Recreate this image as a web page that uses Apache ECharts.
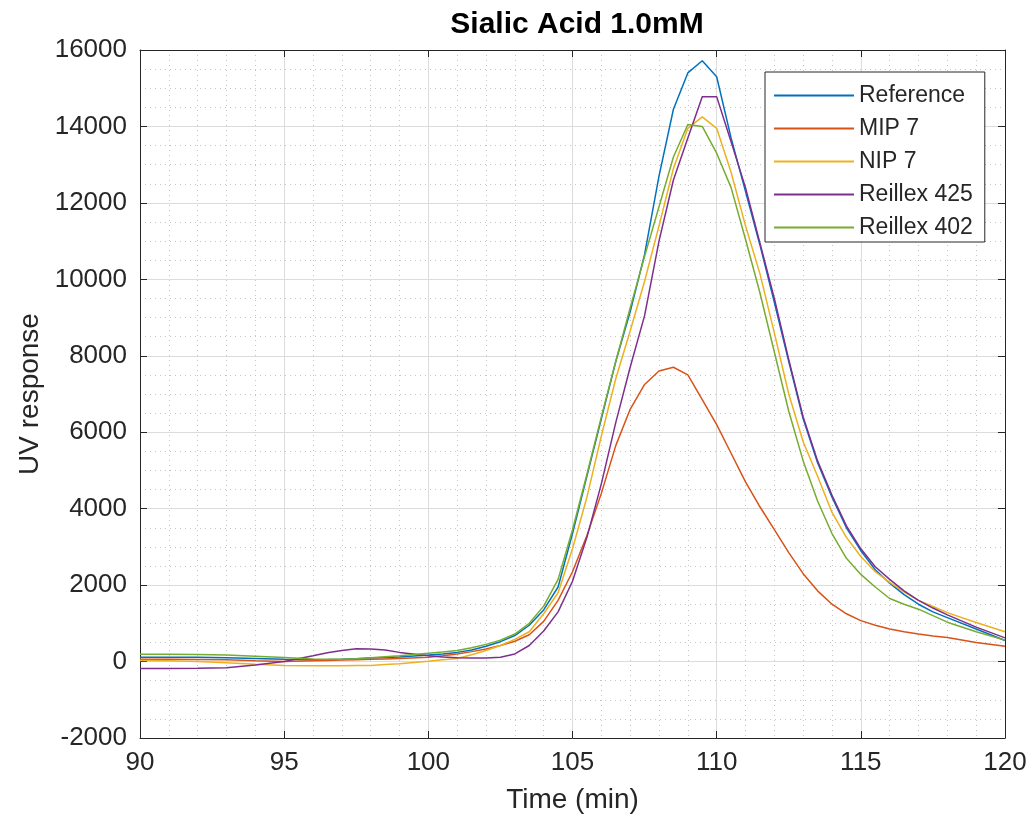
<!DOCTYPE html>
<html>
<head>
<meta charset="utf-8">
<script src="https://cdn.jsdelivr.net/npm/echarts@6/dist/echarts.min.js"></script>
<style>
html,body{margin:0;padding:0;background:#fff;}
#chart{width:1035px;height:823px;}
</style>
</head>
<body>
<div id="chart"></div>
<script>
var titleText = 'Sialic Acid 1.0mM';
var xName = 'Time (min)';
var yName = 'UV response';
var seriesNames = ['Reference', 'MIP 7', 'NIP 7', 'Reillex 425', 'Reillex 402'];
var seriesColors = ['#0072BD', '#D95319', '#EDB120', '#7E2F8E', '#77AC30'];

var times = [90,91,92,93,94,95,96,96.5,97,97.5,98,98.5,99,100,100.5,101,101.5,102,102.5,103,103.5,104,104.5,105,105.5,106,106.5,107,107.5,108,108.5,109,109.5,110,110.5,111,111.5,112,112.5,113,113.5,114,114.5,115,115.5,116,116.5,117,117.5,118,119,120];

var reference = [110,110,110,100,80,60,50,52,60,72,90,105,120,170,200,240,300,400,520,680,950,1350,1950,3350,4850,6350,7850,9150,10650,12700,14450,15400,15720,15300,13700,12300,10900,9400,7850,6350,5200,4300,3500,2900,2400,2050,1750,1500,1300,1150,850,550];
var mip7 = [60,60,55,45,20,0,20,30,40,50,60,70,80,110,150,200,260,330,420,530,700,1050,1600,2350,3300,4400,5650,6600,7250,7600,7700,7500,6850,6200,5450,4700,4050,3450,2850,2300,1850,1500,1250,1070,950,850,780,720,670,630,500,400];
var nip7 = [30,20,0,-30,-70,-100,-110,-112,-110,-105,-100,-80,-60,10,50,80,180,290,420,580,780,1250,1800,2950,4300,5900,7400,8650,9950,11400,12900,13950,14250,13950,12800,11400,10150,8600,7000,5750,4850,3900,3250,2750,2350,2070,1820,1600,1440,1280,1020,780];
var reillex425 = [-180,-180,-175,-160,-90,0,150,230,290,335,330,300,240,150,120,100,90,90,110,200,420,800,1300,2100,3250,4650,6250,7700,9050,11000,12600,13700,14780,14780,13600,12400,10950,9500,7900,6400,5250,4350,3550,2950,2480,2150,1850,1600,1400,1220,900,620];
var reillex402 = [190,190,185,170,140,105,70,62,60,75,100,125,150,220,250,290,360,450,560,720,1000,1450,2150,3450,4900,6400,7850,9250,10600,11900,13200,14050,14000,13300,12400,11050,9650,8100,6550,5250,4200,3350,2700,2280,1950,1650,1500,1370,1200,1030,780,560];

var allValues = [reference, mip7, nip7, reillex425, reillex402];

var textColor = '#262626';
var font = "'Liberation Sans', Arial, Helvetica, sans-serif";

function pairs(vals) {
  return times.map(function (t, i) { return [t, vals[i]]; });
}

var series = seriesNames.map(function (name, k) {
  return {
    name: name,
    type: 'line',
    xAxisIndex: 0,
    yAxisIndex: 0,
    data: pairs(allValues[k]),
    symbol: 'none',
    showSymbol: false,
    smooth: false,
    animation: false,
    lineStyle: { color: seriesColors[k], width: 1.5 },
    itemStyle: { color: seriesColors[k] }
  };
});

var chart = echarts.init(document.getElementById('chart'), null, { renderer: 'canvas' });

var baseX = { type: 'value', min: 90, max: 120, interval: 5 };
var baseY = { type: 'value', min: -2000, max: 16000, interval: 2000 };

chart.setOption({
  backgroundColor: '#ffffff',
  animation: false,
  title: {
    text: titleText,
    left: 572,
    top: 5,
    textAlign: 'center',
    textStyle: { fontFamily: font, fontSize: 30, fontWeight: 'bold', color: '#000' }
  },
  legend: {
    data: seriesNames,
    orient: 'vertical',
    left: 765,
    top: 72,
    icon: 'rect',
    itemWidth: 80,
    itemHeight: 2,
    itemGap: 10,
    padding: [12, 12, 3, 9],
    borderColor: textColor,
    borderWidth: 1,
    backgroundColor: '#fff',
    textStyle: { fontFamily: font, fontSize: 23, color: textColor, lineHeight: 22 }
  },
  grid: { left: 140, right: 30, top: 50, bottom: 85, containLabel: false },
  xAxis: [
    Object.assign({}, baseX, {
      position: 'bottom',
      name: xName,
      nameLocation: 'middle',
      nameGap: 48,
      nameTextStyle: { fontFamily: font, fontSize: 28, color: textColor },
      axisLine: { show: true, onZero: false, lineStyle: { color: textColor, width: 1 } },
      axisTick: { show: true, inside: true, length: 7, lineStyle: { color: textColor } },
      axisLabel: { fontFamily: font, fontSize: 26, color: textColor, margin: 12 },
      splitLine: { show: true, lineStyle: { color: '#dcdcdc', width: 1 } },
      minorTick: { show: false, splitNumber: 5 },
      minorSplitLine: { show: true, lineStyle: { color: '#c4c4c4', width: 1, type: [1, 4] } }
    }),
    Object.assign({}, baseX, {
      position: 'top',
      axisLine: { show: true, onZero: false, lineStyle: { color: textColor, width: 1 } },
      axisTick: { show: true, inside: true, length: 7, lineStyle: { color: textColor } },
      axisLabel: { show: false },
      splitLine: { show: false }
    })
  ],
  yAxis: [
    Object.assign({}, baseY, {
      position: 'left',
      name: yName,
      nameLocation: 'middle',
      nameGap: 96,
      nameTextStyle: { fontFamily: font, fontSize: 28, color: textColor },
      axisLine: { show: true, onZero: false, lineStyle: { color: textColor, width: 1 } },
      axisTick: { show: true, inside: true, length: 7, lineStyle: { color: textColor } },
      axisLabel: { fontFamily: font, fontSize: 26, color: textColor, margin: 13,
        formatter: function (v) { return String(v); } },
      splitLine: { show: true, lineStyle: { color: '#dcdcdc', width: 1 } },
      minorTick: { show: false, splitNumber: 4 },
      minorSplitLine: { show: true, lineStyle: { color: '#c4c4c4', width: 1, type: [1, 4] } }
    }),
    Object.assign({}, baseY, {
      position: 'right',
      axisLine: { show: true, onZero: false, lineStyle: { color: textColor, width: 1 } },
      axisTick: { show: true, inside: true, length: 7, lineStyle: { color: textColor } },
      axisLabel: { show: false },
      splitLine: { show: false }
    })
  ],
  series: series
});
</script>
</body>
</html>
